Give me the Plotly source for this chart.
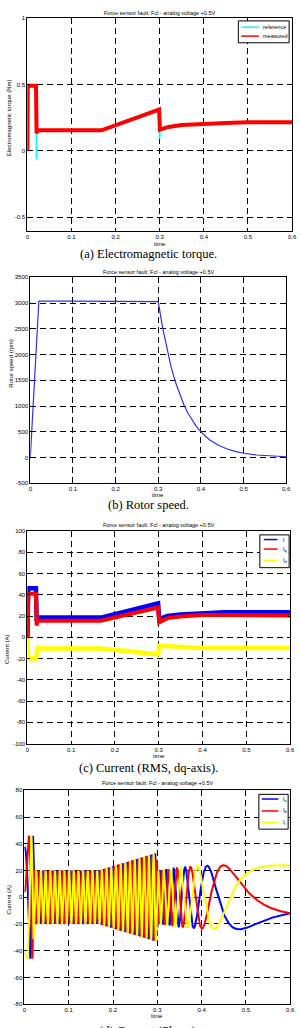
import numpy as np
import plotly.graph_objects as go

W, H = 300, 1028
TITLE = "Force sensor fault: Fcl - analog voltage +0.5V"

# ---------------- data ----------------
x_ticks = [0, 0.1, 0.2, 0.3, 0.4, 0.5, 0.6]
x_ticklabels = ["0", "0.1", "0.2", "0.3", "0.4", "0.5", "0.6"]

# (a) electromagnetic torque (Nm)
torque_ref_t = [0, 0.0008, 0.0195, 0.0205, 0.0210, 0.0218, 0.168, 0.297, 0.2985, 0.2995, 0.3015, 0.32, 0.35, 0.40, 0.45, 0.50, 0.60]
torque_ref_v = [0, 0.49, 0.49, -0.06, 0.37, 0.155, 0.155, 0.31, 0.31, 0.09, 0.17, 0.18, 0.195, 0.205, 0.21, 0.215, 0.215]
torque_meas_t = [0, 0.0008, 0.0195, 0.0208, 0.0225, 0.168, 0.297, 0.2985, 0.3005, 0.32, 0.35, 0.40, 0.45, 0.50, 0.60]
torque_meas_v = [0, 0.49, 0.49, 0.13, 0.155, 0.155, 0.31, 0.31, 0.16, 0.18, 0.195, 0.205, 0.21, 0.215, 0.215]
torque_yticks = [-0.5, 0, 0.5, 1]
torque_yticklabels = ["-0.5", "0", "0.5", "1"]

# (b) rotor speed (rpm)
speed_t = [0, 0.02, 0.1, 0.2, 0.3, 0.31, 0.32, 0.33, 0.34, 0.35, 0.36, 0.37, 0.38, 0.39, 0.40, 0.42, 0.44, 0.46, 0.48, 0.50, 0.53, 0.56, 0.60]
speed_rpm = [0, 3040, 3040, 3035, 3030, 2530, 2110, 1760, 1470, 1230, 1025, 855, 713, 595, 497, 346, 241, 168, 117, 82, 48, 28, 14]
speed_yticks = [-500, 0, 500, 1000, 1500, 2000, 2500, 3000, 3500]

# (c) RMS and dq-axis currents (A)
rms_t = [0, 0.002, 0.0195, 0.0212, 0.023, 0.168, 0.297, 0.2985, 0.301, 0.32, 0.35, 0.40, 0.45, 0.50, 0.60]
i_rms = [0, 46, 46, 15, 18.5, 18.5, 32, 32, 17, 20, 21.5, 23, 23.5, 23.5, 23.5]
i_q = [0, 41, 41, 11, 15.5, 15.5, 28, 28, 14, 18, 19.5, 21, 21, 21, 20.5]
i_d = [0, -20, -20, -11, -10.5, -10.5, -16, -16, -8, -8.5, -9.5, -10, -10, -10, -10]
cur_yticks = list(range(-100, 101, 20))

# (d) phase currents (A): amplitude envelope and final electrical angle
phase_env_t = [0, 0.0195, 0.022, 0.168, 0.297, 0.301, 0.35, 0.40, 0.45, 0.60]
phase_env_amp = [46, 46, 20, 20, 33, 20, 22, 23.5, 24, 24]
elec_hz_per_rpm = 0.03107
final_angle_deg = -120.0   # Ic ends at +24, Ia = Ib = -12
phase_yticks = list(range(-80, 81, 20))

# ---------------- derived phase waveforms ----------------
tp = np.linspace(0, 0.6, 6001)
dt = tp[1] - tp[0]
freq = np.interp(tp, speed_t, speed_rpm) * elec_hz_per_rpm
theta = 2 * np.pi * np.concatenate([[0], np.cumsum(0.5 * (freq[1:] + freq[:-1]) * dt)])
theta = theta - theta[-1] + np.deg2rad(final_angle_deg)
amp = np.interp(tp, phase_env_t, phase_env_amp)
i_a = amp * np.cos(theta)
i_b = amp * np.cos(theta - 2 * np.pi / 3)
i_c = amp * np.cos(theta + 2 * np.pi / 3)

# ---------------- layout ----------------
panels = [
    dict(x0=26, x1=297, y0=15, y1=229, yr=[-0.6, 1], yt=torque_yticks, ytl=torque_yticklabels),
    dict(x0=29, x1=291, y0=276, y1=483, yr=[-500, 3500], yt=speed_yticks, ytl=[str(v) for v in speed_yticks]),
    dict(x0=26, x1=295, y0=531, y1=745, yr=[-100, 100], yt=cur_yticks, ytl=[str(v) for v in cur_yticks]),
    dict(x0=23, x1=295, y0=792, y1=1007, yr=[-80, 80], yt=phase_yticks, ytl=[str(v) for v in phase_yticks]),
]

FONT = "Liberation Sans, Arial, sans-serif"
SERIF = "Liberation Serif, Times New Roman, serif"

axis_style = dict(
    showline=True, mirror="ticks", linecolor="black", linewidth=1,
    ticks="inside", ticklen=3, tickcolor="black", tickwidth=1,
    showgrid=True, gridcolor="black", gridwidth=1, griddash="6px,4px",
    zeroline=False, tickfont=dict(family=FONT, size=6, color="black"),
)

layout = dict(
    width=W, height=H, margin=dict(l=0, r=0, t=0, b=0),
    paper_bgcolor="white", plot_bgcolor="white", showlegend=False,
    font=dict(family=FONT, size=6, color="black"),
)

for i, p in enumerate(panels):
    sfx = "" if i == 0 else str(i + 1)
    layout["xaxis" + sfx] = dict(domain=[p["x0"] / W, p["x1"] / W], anchor="y" + sfx,
                                 range=[0, 0.6], tickvals=x_ticks, ticktext=x_ticklabels, **axis_style)
    layout["yaxis" + sfx] = dict(domain=[1 - p["y1"] / H, 1 - p["y0"] / H], anchor="x" + sfx,
                                 range=p["yr"], tickvals=p["yt"], ticktext=p["ytl"], **axis_style)

fig = go.Figure(layout=layout)


def add(x, y, ax, color, width):
    sfx = "" if ax == 1 else str(ax)
    fig.add_trace(go.Scatter(x=x, y=y, mode="lines", xaxis="x" + sfx, yaxis="y" + sfx,
                             line=dict(color=color, width=width), hoverinfo="skip"))


BLUE, RED, YEL, CYAN = "#0000ff", "#ff0000", "#ffff00", "#00ffff"

add(torque_ref_t, torque_ref_v, 1, CYAN, 1.5)
add(torque_meas_t, torque_meas_v, 1, RED, 4)

add(speed_t, speed_rpm, 2, "#3030e8", 1.2)

add(rms_t, i_rms, 3, BLUE, 4.5)
add(rms_t, i_q, 3, RED, 4)
add(rms_t, i_d, 3, YEL, 4.5)

add(tp, i_a, 4, BLUE, 2)
add(tp, i_b, 4, RED, 2)
add(tp, i_c, 4, YEL, 2)

annotations = []
shapes = []


def ann(text, x, y, size=6, xanchor="center", yanchor="middle", angle=0, family=FONT):
    annotations.append(dict(text=text, x=x / W, y=1 - y / H, xref="paper", yref="paper",
                            xanchor=xanchor, yanchor=yanchor, textangle=angle, showarrow=False,
                            font=dict(family=family, size=size, color="black")))


# titles, axis labels, captions
titles_y = [10, 271, 525, 785]
time_y = [242, 495, 757, 1019]
ylab = [("Electromagnetic torque (Nm)", 7, 115), ("Rotor speed (rpm)", 9, 362),
        ("Current (A)", 5, 650), ("Current (A)", 7, 902)]
captions = [("(a) Electromagnetic torque.", 252), ("(b) Rotor speed.", 505),
            ("(c) Current (RMS, dq-axis).", 769), ("(d) Current (Phase).", 1034)]

for i, p in enumerate(panels):
    cx = (p["x0"] + p["x1"]) / 2
    ann(TITLE, cx, titles_y[i], size=5.5)
    ann("time", cx, time_y[i], size=6)
    ann(ylab[i][0], ylab[i][1], ylab[i][2], size=6, angle=-90)
    ann(captions[i][0], 150, captions[i][1], size=12.5, family=SERIF)


def legend(box, items, line_x, text_x):
    x0, x1, y0, y1 = box
    shapes.append(dict(type="rect", xref="paper", yref="paper", x0=x0 / W, x1=x1 / W,
                       y0=1 - y1 / H, y1=1 - y0 / H, line=dict(color="black", width=1),
                       fillcolor="white", layer="above"))
    for label, color, y in items:
        shapes.append(dict(type="line", xref="paper", yref="paper", x0=line_x[0] / W, x1=line_x[1] / W,
                           y0=1 - y / H, y1=1 - y / H, line=dict(color=color, width=1.5), layer="above"))
        ann(label, text_x, y, size=5.5, xanchor="left")


legend((242, 294, 18, 40), [("reference", CYAN, 24.3), ("measured", RED, 33.3)], (245, 263), 265)
legend((264, 294, 535, 568), [("I", BLUE, 539.7), ("I<sub>q</sub>", RED, 549.3), ("I<sub>d</sub>", YEL, 560.7)], (268, 282), 285.5)
legend((263, 293, 796, 831), [("I<sub>a</sub>", BLUE, 800.7), ("I<sub>b</sub>", RED, 812.7), ("I<sub>c</sub>", YEL, 824.3)], (266, 283), 285.5)

fig.update_layout(annotations=annotations, shapes=shapes)
fig.write_html("out.html")
